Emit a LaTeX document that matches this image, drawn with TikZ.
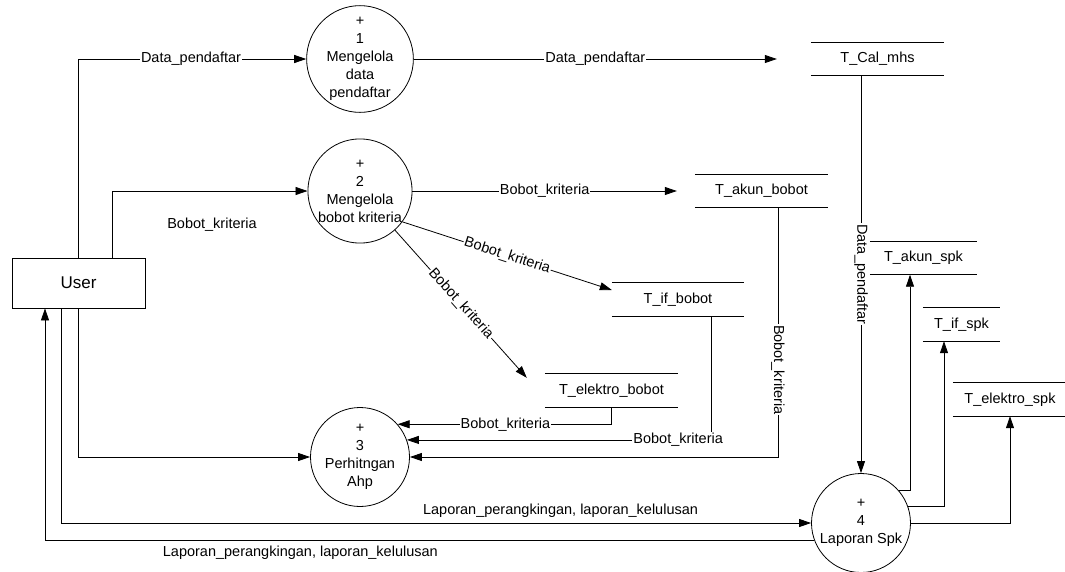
\documentclass[tikz,border=0pt]{standalone}
\usepackage{fontspec}
\setmainfont{Liberation Sans}
\usetikzlibrary{arrows.meta}

\begin{document}
\begin{tikzpicture}[
    x=1pt, y=-1pt,
    >={Triangle[length=12pt,width=8pt]},
    every node/.style={font=\fontsize{14.5}{18}\selectfont},
    process/.style={circle, draw, line width=0.8pt, minimum size=99pt, inner sep=0pt, align=center},
    store/.style={minimum height=33pt, inner sep=0pt},
    entity/.style={rectangle, draw, line width=0.8pt, minimum width=133pt, minimum height=50pt,
                   font=\fontsize{17}{20}\selectfont},
    flow/.style={->, line width=0.8pt},
    lbl/.style={fill=white, inner sep=1pt},
  ]

  \useasboundingbox (0,0) rectangle (1065,571);

  % External entity
  \node[entity] (user) at (78.5,283) {User};

  % Processes
  \node[process] (p1) at (360, 59) {+\\1\\Mengelola\\data\\pendaftar};
  \node[process] (p2) at (360,191) {+\\2\\Mengelola\\bobot kriteria};
  \node[process] (p3) at (360,457) {+\\3\\Perhitngan\\Ahp};
  \node[process] (p4) at (861,523) {+\\4\\Laporan Spk};

  % Data stores
  \node[store, minimum width=133pt] (cal)   at (877.5, 59)   {T\_Cal\_mhs};
  \node[store, minimum width=133pt] (akunb) at (761.5,191)   {T\_akun\_bobot};
  \node[store, minimum width=132pt] (ifb)   at (678,299.5)   {T\_if\_bobot};
  \node[store, minimum width=133pt] (elb)   at (611.5,390.5) {T\_elektro\_bobot};
  \node[store, minimum width=107pt] (akuns) at (923.5,258)   {T\_akun\_spk};
  \node[store, minimum width=77pt]  (ifs)   at (961.5,324.5) {T\_if\_spk};
  \node[store, minimum width=114pt] (els)   at (1010,399.5)  {T\_elektro\_spk};

  \foreach \s in {cal, akunb, ifb, elb, akuns, ifs, els}
    \draw[line width=0.8pt] (\s.north west) -- (\s.north east)
                            (\s.south west) -- (\s.south east);

  % Loose label below the User -> 2 flow
  \node (bk) at (212,225) {Bobot\_kriteria};

  % User to processes
  \draw[flow] (user.north) |- node[lbl, pos=0.747] {Data\_pendaftar} (p1);
  \draw[flow] ([xshift=33.5pt]user.north) |- (p2);
  \draw[flow] (user.south) |- (p3);
  \draw[flow] ([xshift=-17.5pt]user.south) |- node[above=2pt, pos=0.833]
    {Laporan\_perangkingan, laporan\_kelulusan} (p4);

  % Report back to User
  \draw[flow] (p4.200) -| node[below=2pt, pos=0.334]
    {Laporan\_perangkingan, laporan\_kelulusan} ([xshift=-33.5pt]user.south);

  % Processes 1 and 2 to stores
  \draw[flow] (p1) -- node[lbl, midway] {Data\_pendaftar} ([xshift=-34pt]cal.west);
  \draw[flow] (p2) -- node[lbl, midway] {Bobot\_kriteria} ([xshift=-18pt]akunb.west);
  \draw[flow] (p2.-36) -- node[lbl, sloped, midway] {Bobot\_kriteria} ([yshift=9.5pt]ifb.west);
  \draw[flow] (p2) -- node[lbl, sloped, midway] {Bobot\_kriteria}
    ([xshift=-18pt,yshift=-4pt]elb.north west);

  % Weight stores to process 3
  \draw[flow] (elb.south) |- node[lbl, pos=0.748] {Bobot\_kriteria} (p3.41);
  \draw[flow] ([xshift=33pt]ifb.south) |- node[lbl, pos=0.554] {Bobot\_kriteria} (p3.20);
  \draw[flow] ([xshift=16.5pt]akunb.south) |- node[lbl, rotate=-90, pos=0.325] {Bobot\_kriteria} (p3);

  % Candidates to process 4
  \draw[flow] (cal.south -| p4) -- node[lbl, rotate=-90, midway] {Data\_pendaftar} (p4);

  % Process 4 to result stores
  \draw[flow] (p4.41) -| ([xshift=-13.5pt]akuns.south);
  \draw[flow] (p4.19) -| ([xshift=-17.5pt]ifs.south);
  \draw[flow] (p4.east) -| (els.south);

\end{tikzpicture}
\end{document}
